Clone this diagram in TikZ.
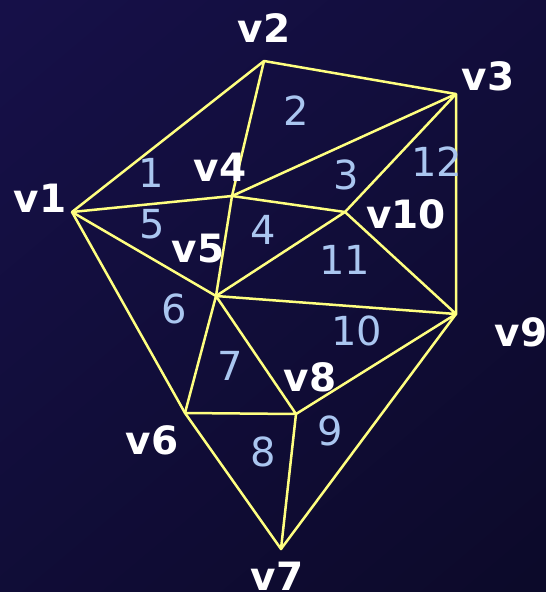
\documentclass[tikz,border=0pt]{standalone}
\usepackage{fontspec}
\setmainfont{DejaVu Sans}
\usepackage{tikz}
\usetikzlibrary{positioning}
\definecolor{bgtop}{RGB}{22,16,72}
\definecolor{bgbot}{RGB}{12,10,42}
\definecolor{meshline}{RGB}{255,255,128}
\definecolor{facenum}{RGB}{170,198,240}
\tikzset{
    edge/.style = {draw=meshline, line width=2.5pt, line join=round},
    vtx/.style = {text=white, font=\fontsize{39}{39}\selectfont\bfseries, inner sep=0pt},
    face/.style = {text=facenum, font=\fontsize{40}{40}\selectfont, inner sep=0pt}
}
\begin{document}
\begin{tikzpicture}[x=1pt, y=-1pt]
		\useasboundingbox (0,0) rectangle (546,592);
		\clip (0,0) rectangle (546,592);
		\shade [top color=bgtop, bottom color=bgbot, shading angle=40] (-100,-100) rectangle (646,692);
		% vertices
		\coordinate (v1) at (72,212);
		\coordinate (v2) at (264,61);
		\coordinate (v3) at (456,94);
		\coordinate (v4) at (232,196);
		\coordinate (v5) at (216,296);
		\coordinate (v6) at (185,413);
		\coordinate (v7) at (281,549);
		\coordinate (v8) at (296,414);
		\coordinate (v9) at (456,314);
		\coordinate (v10) at (345,212);
		% edges
		\draw [edge] (v1) -- (v2) -- (v3) -- (v9) -- (v7) -- (v6) -- cycle;
		\draw [edge] (v2) -- (v4) -- (v3);
		\draw [edge] (v1) -- (v4) -- (v10) -- (v3);
		\draw [edge] (v1) -- (v5) -- (v4);
		\draw [edge] (v5) -- (v10) -- (v9) -- (v5);
		\draw [edge] (v6) -- (v5) -- (v8) -- (v6);
		\draw [edge] (v9) -- (v8) -- (v7);
		% vertex labels
		\node (l1) [vtx] at (40,198) {v1};
		\node (l2) [vtx] at (264,28) {v2};
		\node (l3) [vtx] at (488,76) {v3};
		\node (l4) [vtx] at (220,167) {v4};
		\node (l5) [vtx] at (198,249) {v5};
		\node (l6) [vtx] at (152,440) {v6};
		\node (l7) [vtx] at (277,576) {v7};
		\node (l8) [vtx] at (310,377) {v8};
		\node (l9) [vtx] at (521,332) {v9};
		\node (l10) [vtx] at (406,214) {v10};
		% face numbers
		\node (f1) [face] at (151,173) {1};
		\node (f2) [face] at (296,111) {2};
		\node (f3) [face] at (346,175) {3};
		\node (f4) [face] at (263,230) {4};
		\node (f5) [face] at (152,224) {5};
		\node (f6) [face] at (174,309) {6};
		\node (f7) [face] at (230,366) {7};
		\node (f8) [face] at (263,452) {8};
		\node (f9) [face] at (330,431) {9};
		\node (f10) [face] at (357,331) {10};
		\node (f11) [face] at (345,260) {11};
		\node (f12) [face] at (437,162) {12};
	\end{tikzpicture}
\end{document}
